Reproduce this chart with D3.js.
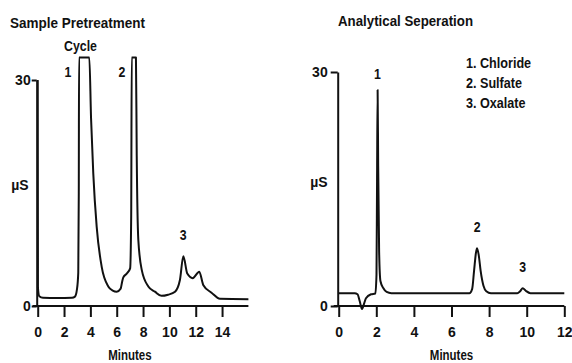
<!DOCTYPE html>
<html>
<head>
<meta charset="utf-8">
<script src="https://cdn.jsdelivr.net/npm/d3@7"></script>
<style>
  body { margin: 0; background: #fff; }
  svg text { font-family: "Liberation Sans", Arial, sans-serif; font-weight: bold; fill: #111; }
</style>
</head>
<body>
<svg id="chart" width="572" height="363"></svg>
<script>
// Sample pretreatment trace (minutes, µS); flat tops are where the pen ran off scale
const preTime   = [0, 0.02, 0.12, 0.4, 1.5, 2.6, 2.83, 2.98, 3.08, 3.12, 3.14, 3.92, 4.05, 4.22, 4.48, 4.86, 5.36, 5.7, 6.0, 6.3, 6.42, 6.5, 6.76, 7.02, 7.1, 7.14, 7.46, 7.52, 7.64, 7.9, 8.4, 8.9, 9.4, 9.9, 10.43, 10.8, 11.06, 11.36, 11.77, 12.27, 12.57, 13.2, 13.84, 16];
const preSignal = [30, 2.4, 1.3, 1.1, 1.05, 1.1, 1.25, 2.2, 4.4, 15, 33, 33, 25, 17.6, 10.5, 5.2, 2.6, 2.05, 1.9, 2.3, 3.3, 3.8, 4.3, 5.0, 12, 33, 33, 20, 8.8, 4.8, 2.6, 1.9, 1.35, 1.5, 1.9, 3.45, 6.6, 4.3, 3.7, 4.55, 2.8, 1.77, 0.95, 0.9];

// Analytical separation trace
const sepTime   = [0, 0.85, 1.0, 1.12, 1.24, 1.35, 1.45, 1.72, 1.95, 2.01, 2.04, 2.07, 2.1, 2.15, 2.22, 2.37, 2.55, 2.8, 6.95, 7.1, 7.2, 7.3, 7.36, 7.45, 7.55, 7.7, 7.85, 8.1, 9.5, 9.65, 9.79, 9.95, 10.2, 12];
const sepSignal = [1.63, 1.63, 1.5, 0.6, -0.4, 0.3, 1.0, 1.5, 1.6, 4, 16, 27.7, 18, 7, 3.2, 2.3, 1.8, 1.65, 1.63, 2.2, 4.5, 6.8, 7.4, 6.5, 4.5, 2.6, 1.9, 1.65, 1.65, 1.9, 2.27, 1.95, 1.65, 1.63];

const preTicks = [0, 2, 4, 6, 8, 10, 12, 14];
const sepTicks = [0, 2, 4, 6, 8, 10, 12];
const yTicks = [0, 30];

// peak labels: [text, minutes, µS]
const preLabels = [["Cycle", 3.25, 34.5], ["1", 2.3, 31.1], ["2", 6.4, 31.1], ["3", 11.05, 9.4]];
const sepLabels = [["1", 2.06, 29.7], ["2", 7.36, 10.1], ["3", 9.79, 5.0]];
const legendItems = ["1. Chloride", "2. Sulfate", "3. Oxalate"];

const svg = d3.select("#chart");

// squeeze text horizontally, the original lettering is condensed
function condense(sel, factor) {
  sel.each(function () {
    const w = this.getComputedTextLength();
    d3.select(this).attr("textLength", w * factor).attr("lengthAdjust", "spacingAndGlyphs");
  });
}

function drawPanel(opt) {
  const x = d3.scaleLinear().domain(opt.xDomain).range(opt.xRange);
  const y = d3.scaleLinear().domain([0, 30]).range(opt.yRange);
  const g = svg.append("g");

  // x axis with ticks pointing down
  const xAxis = g.append("g")
    .attr("transform", `translate(0,${y(0)})`)
    .call(d3.axisBottom(x).tickValues(opt.ticks).tickSize(11).tickSizeOuter(0).tickFormat(d3.format("d")));
  xAxis.select(".domain").attr("d", `M${opt.xRange[0] - 5},0H${opt.xRange[1]}`);
  xAxis.selectAll("line, .domain").attr("stroke", "#111").attr("stroke-width", 2);
  xAxis.selectAll("text").attr("font-size", 14).attr("y", 26).attr("dy", "0.35em");

  // y axis: just 0 and 30
  const yAxis = g.append("g")
    .attr("transform", `translate(${x(0) + opt.yShift},0)`)
    .call(d3.axisLeft(y).tickValues(yTicks).tickSize(opt.yTick).tickSizeOuter(0));
  yAxis.selectAll("line, .domain").attr("stroke", "#111").attr("stroke-width", 2);
  yAxis.selectAll("text").attr("font-size", 14).attr("x", -opt.yLabelGap);

  g.append("text")
    .attr("x", x(0) + opt.yShift - opt.muGap)
    .attr("y", opt.muY)
    .attr("text-anchor", "end")
    .attr("font-size", 14)
    .attr("dy", "0.35em")
    .text("µS");

  const line = d3.line()
    .x(d => x(d[0]))
    .y(d => y(d[1]))
    .curve(d3.curveMonotoneX);

  g.append("path")
    .datum(d3.zip(opt.time, opt.signal))
    .attr("fill", "none")
    .attr("stroke", "#111")
    .attr("stroke-width", 2)
    .attr("stroke-linejoin", "round")
    .attr("d", line);

  g.selectAll(".peak-label")
    .data(opt.labels)
    .join("text")
    .attr("class", "peak-label")
    .attr("x", d => x(d[1]))
    .attr("y", d => y(d[2]))
    .attr("dy", "0.35em")
    .attr("text-anchor", "middle")
    .attr("font-size", 14)
    .text(d => d[0])
    .call(condense, 0.88);

  g.append("text")
    .attr("x", opt.titleX)
    .attr("y", opt.titleY)
    .attr("font-size", 14)
    .text(opt.title)
    .attr("textLength", opt.titleW)
    .attr("lengthAdjust", "spacingAndGlyphs");

  g.append("text")
    .attr("x", (x(0) + x(opt.ticks[opt.ticks.length - 1])) / 2)
    .attr("y", 360)
    .attr("text-anchor", "middle")
    .attr("font-size", 14)
    .text("Minutes")
    .call(condense, 0.82);

  return { x, y, g };
}

drawPanel({
  xDomain: [0, 16], xRange: [37.7, 248.4], yRange: [306, 80],
  ticks: preTicks, time: preTime, signal: preSignal, labels: preLabels,
  yShift: -1, yTick: 5, yLabelGap: 6, muGap: 8, muY: 185,
  title: "Sample Pretreatment", titleX: 10, titleY: 28, titleW: 135
});

const right = drawPanel({
  xDomain: [0, 12], xRange: [338.7, 564.3], yRange: [306, 72],
  ticks: sepTicks, time: sepTime, signal: sepSignal, labels: sepLabels,
  yShift: -1, yTick: 7, yLabelGap: 10, muGap: 10, muY: 182,
  title: "Analytical Seperation", titleX: 338, titleY: 26, titleW: 135
});

right.g.selectAll(".legend")
  .data(legendItems)
  .join("text")
  .attr("class", "legend")
  .attr("x", 466)
  .attr("y", (d, i) => 63 + i * 20)
  .attr("dy", "0.35em")
  .attr("font-size", 14)
  .text(d => d)
  .call(condense, 0.9);
</script>
</body>
</html>
